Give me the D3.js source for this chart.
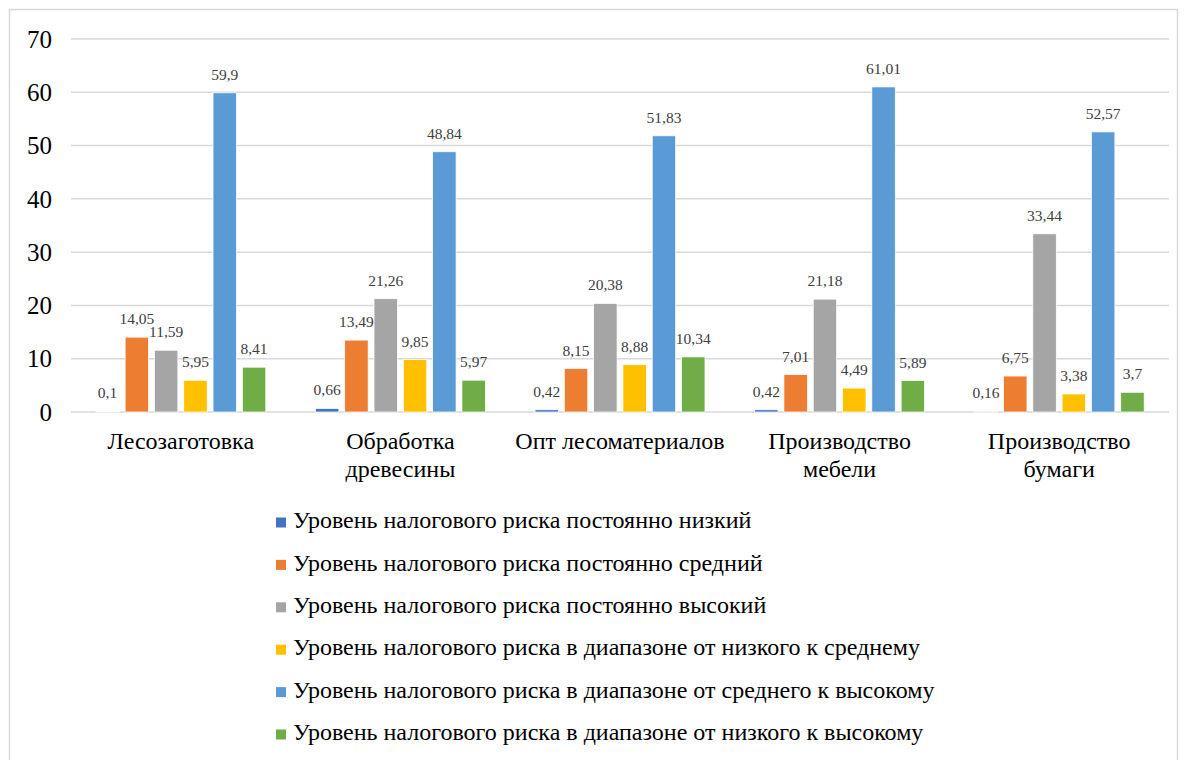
<!DOCTYPE html>
<html>
<head>
<meta charset="utf-8">
<script src="https://cdn.jsdelivr.net/npm/d3@7"></script>
<style>
  html, body { margin: 0; padding: 0; background: #fff; }
  svg { display: block; }
</style>
</head>
<body>
<div id="wrap"></div>
<script>
// Industries (x-axis groups); "\n" splits a label into two lines
const categories = [
  "Лесозаготовка",
  "Обработка\nдревесины",
  "Опт лесоматериалов",
  "Производство\nмебели",
  "Производство\nбумаги"
];

const seriesNames = [
  "Уровень налогового риска постоянно низкий",
  "Уровень налогового риска постоянно средний",
  "Уровень налогового риска постоянно высокий",
  "Уровень налогового риска в диапазоне от низкого к среднему",
  "Уровень налогового риска в диапазоне от среднего к высокому",
  "Уровень налогового риска в диапазоне от низкого к высокому"
];

// Share of companies per risk level, one array per series (order = categories)
const constantLow     = [0.1, 0.66, 0.42, 0.42, 0.16];
const constantMedium  = [14.05, 13.49, 8.15, 7.01, 6.75];
const constantHigh    = [11.59, 21.26, 20.38, 21.18, 33.44];
const lowToMedium     = [5.95, 9.85, 8.88, 4.49, 3.38];
const mediumToHigh    = [59.9, 48.84, 51.83, 61.01, 52.57];
const lowToHigh       = [8.41, 5.97, 10.34, 5.89, 3.7];

const seriesValues = [constantLow, constantMedium, constantHigh, lowToMedium, mediumToHigh, lowToHigh];
const seriesColors = ["#4472C4", "#ED7D31", "#A5A5A5", "#FFC000", "#5B9BD5", "#70AD47"];

const yTicks = [0, 10, 20, 30, 40, 50, 60, 70];

const FONT = "'Liberation Serif'";
const svg = d3.select("#wrap").append("svg")
  .attr("width", 1187).attr("height", 760);

// Outer chart frame
svg.append("rect")
  .attr("x", 9.5).attr("y", 9.5)
  .attr("width", 1168).attr("height", 800)
  .attr("fill", "#fff")
  .attr("stroke", "#d9d9d9")
  .attr("stroke-width", 1.5);

const plot = { left: 71, right: 1169, top: 39, bottom: 412 };

const y = d3.scaleLinear().domain([0, 70]).range([plot.bottom, plot.top]);
const x0 = d3.scaleBand().domain(d3.range(categories.length))
  .range([plot.left, plot.right]).paddingInner(0.226).paddingOuter(0.113);
const x1 = d3.scaleBand().domain(d3.range(seriesNames.length))
  .range([0, x0.bandwidth()]).paddingInner(0.2).paddingOuter(0);

// Horizontal gridlines
svg.append("g").selectAll("line").data(yTicks).join("line")
  .attr("x1", plot.left).attr("x2", plot.right)
  .attr("y1", d => y(d)).attr("y2", d => y(d))
  .attr("stroke", "#d9d9d9").attr("stroke-width", 1.5);

// Y tick labels
svg.append("g").selectAll("text").data(yTicks).join("text")
  .attr("x", 52).attr("y", d => y(d))
  .attr("dy", "0.35em")
  .attr("text-anchor", "end")
  .style("font-family", FONT)
  .style("font-size", "25px")
  .attr("fill", "#000")
  .text(d => d);

// Bars and value labels
const fmt = v => String(v).replace(".", ",");
const groups = svg.append("g").selectAll("g").data(categories).join("g")
  .attr("transform", (d, i) => `translate(${x0(i)},0)`);

groups.each(function(cat, ci) {
  const g = d3.select(this);
  const vals = seriesValues.map((s, si) => ({ si, v: s[ci] }));
  g.selectAll("rect").data(vals).join("rect")
    .attr("x", d => x1(d.si))
    .attr("y", d => y(d.v))
    .attr("width", x1.bandwidth())
    .attr("height", d => y(0) - y(d.v))
    .attr("fill", d => seriesColors[d.si])
    .attr("stroke", "#fff").attr("stroke-width", 0.75);
  g.selectAll("text.val").data(vals).join("text")
    .attr("class", "val")
    .attr("x", d => x1(d.si) + x1.bandwidth() / 2)
    .attr("y", d => y(d.v) - 13)
    .attr("text-anchor", "middle")
    .style("font-family", FONT)
    .style("font-size", "15.5px")
    .attr("fill", "#404040")
    .text(d => fmt(d.v));
});

// Category labels
const catLabels = svg.append("g").selectAll("text").data(categories).join("text")
  .attr("text-anchor", "middle")
  .style("font-family", FONT)
  .style("font-size", "24px")
  .attr("fill", "#000");
catLabels.each(function(d, i) {
  const t = d3.select(this);
  const cx = x0(i) + x0.bandwidth() / 2;
  d.split("\n").forEach((line, li) => {
    t.append("tspan").attr("x", cx).attr("y", 449 + li * 27.5).text(line);
  });
});

// Legend
const legend = svg.append("g").selectAll("g").data(seriesNames).join("g")
  .attr("transform", (d, i) => `translate(276,${522.5 + i * 42.4})`);
legend.append("rect")
  .attr("x", 0).attr("y", -5).attr("width", 10).attr("height", 10)
  .attr("fill", (d, i) => seriesColors[i]);
legend.append("text")
  .attr("x", 17).attr("y", 0).attr("dy", "0.24em")
  .style("font-family", FONT)
  .style("font-size", "24px")
  .attr("fill", "#000")
  .text(d => d);
</script>
</body>
</html>
